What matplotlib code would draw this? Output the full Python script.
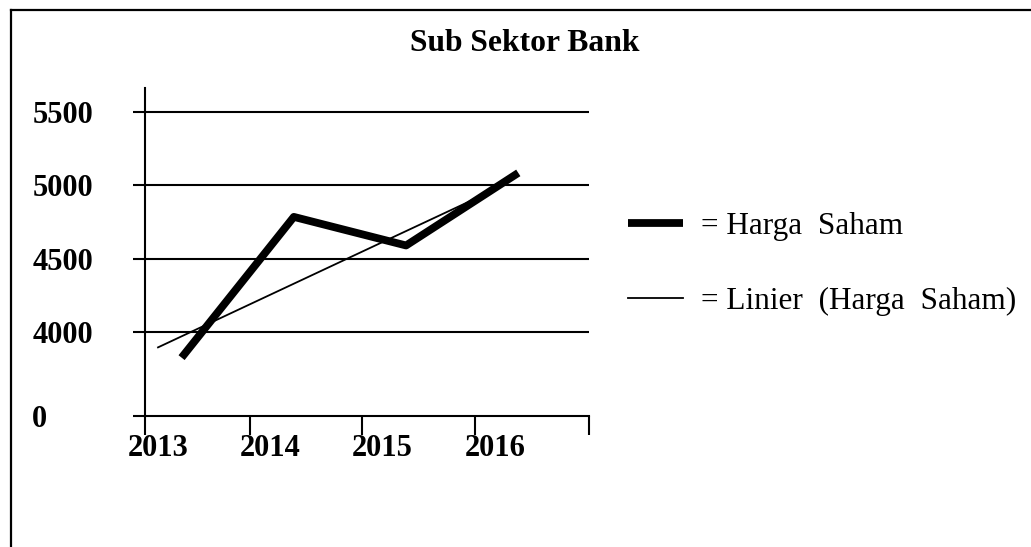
import numpy as np
from matplotlib import pyplot as plt
from matplotlib.lines import Line2D

# data
tahun = [2013, 2014, 2015, 2016]
harga_saham = [3825, 4785, 4590, 5085]
linier = [3895, 4254, 4613, 4971]
y_ticks = [0, 4000, 4500, 5000, 5500]
y_labels = ['0', '4000', '4500', '5000', '5500']

plt.rcParams['font.family'] = ['Liberation Serif', 'DejaVu Serif']


# sumbu y terputus: 0..3500 dipadatkan
def forward(v):
    v = np.asarray(v, dtype=float)
    return np.where(v >= 3500, v, 3427 + v * 73 / 3500)


def inverse(u):
    u = np.asarray(u, dtype=float)
    return np.where(u >= 3500, u, (u - 3427) * 3500 / 73)


fig = plt.figure(figsize=(10.31, 5.47), dpi=100)
ax = fig.add_axes([145 / 1031, 131 / 547, 444 / 1031, 328 / 547])
ax.set_yscale('function', functions=(forward, inverse))

x_harga = [t + 0.21 for t in tahun]
ln_harga, = ax.plot(x_harga, harga_saham, color='black', linewidth=5.6,
                    solid_capstyle='butt', zorder=4)
ln_linier, = ax.plot(tahun, linier, color='black', linewidth=1.3, zorder=3)

x_left, x_right = 2012.884, 2016.84
ax.set_xlim(x_left, x_right)
ax.set_ylim(0, 5664)

ax.set_yticks(y_ticks)
ax.set_yticklabels(y_labels, fontweight='bold', fontsize=22)
ax.tick_params(axis='y', direction='out', length=8.6, width=1.5, pad=72.5)
for lab in ax.get_yticklabels():
    lab.set_horizontalalignment('left')

ax.set_xticks(tahun)
ax.set_xticklabels([str(t) for t in tahun], fontweight='bold', fontsize=22)
ax.tick_params(axis='x', which='major', length=0, pad=13)
ax.set_xticks([x_left] + [t + 0.82 for t in tahun[:-1]] + [x_right], minor=True)
ax.tick_params(axis='x', which='minor', direction='out', length=13.7, width=1.5)

# garis grid horizontal
for v in y_ticks[1:]:
    ax.axhline(v, color='black', linewidth=1.5, zorder=1)

for side in ['top', 'right']:
    ax.spines[side].set_visible(False)
for side in ['left', 'bottom']:
    ax.spines[side].set_linewidth(1.5)

fig.text(524.5 / 1031, 1 - 51 / 547, 'Sub Sektor Bank', ha='center', va='baseline',
         fontsize=22.8, fontweight='bold')

ax.legend([ln_harga, ln_linier], ['= Harga  Saham', '= Linier  (Harga  Saham)'],
          loc='upper left', bbox_to_anchor=(628 / 1031, 1 - 212 / 547),
          bbox_transform=fig.transFigure, frameon=False, borderpad=0,
          borderaxespad=0, fontsize=22.5, handlelength=1.75, handletextpad=0.58,
          labelspacing=1.48)

# bingkai kiri dan atas
fig.add_artist(Line2D([11 / 1031, 11 / 1031], [0, 1 - 10 / 547], color='black',
                      linewidth=1.6, transform=fig.transFigure))
fig.add_artist(Line2D([11 / 1031, 1], [1 - 10 / 547, 1 - 10 / 547], color='black',
                      linewidth=1.6, transform=fig.transFigure))

fig.savefig('out.png', dpi=100)
